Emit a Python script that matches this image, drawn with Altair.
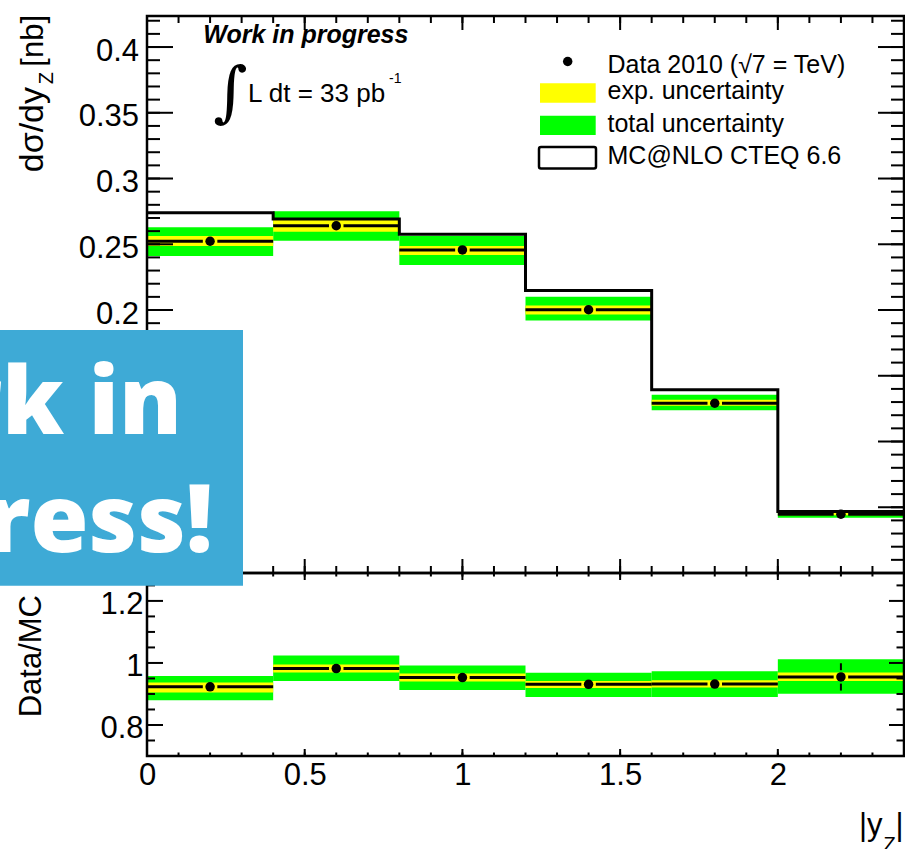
import altair as alt
import pandas as pd

# ---------------- data ----------------
bin_lo = [0.0, 0.4, 0.8, 1.2, 1.6, 2.0]
bin_hi = [0.4, 0.8, 1.2, 1.6, 2.0, 2.4]
bin_center = [0.2, 0.6, 1.0, 1.4, 1.8, 2.2]

xsec = [0.2523, 0.2641, 0.2457, 0.2002, 0.1291, 0.0447]
xsec_stat = [0.0025, 0.0026, 0.0024, 0.0020, 0.0014, 0.0020]
xsec_exp_lo = [0.2487, 0.2596, 0.2419, 0.1965, 0.1272, 0.0440]
xsec_exp_hi = [0.2563, 0.2699, 0.2487, 0.2035, 0.1317, 0.0460]
xsec_tot_lo = [0.2411, 0.2527, 0.2343, 0.1921, 0.1237, 0.0421]
xsec_tot_hi = [0.2629, 0.2751, 0.2563, 0.2101, 0.1355, 0.0474]
mc_xsec = [0.2740, 0.2692, 0.2576, 0.2148, 0.1394, 0.0467]

ratio = [0.923, 0.982, 0.953, 0.931, 0.932, 0.955]
ratio_stat = [0.010, 0.010, 0.010, 0.010, 0.010, 0.044]
ratio_exp_lo = [0.905, 0.969, 0.940, 0.919, 0.921, 0.942]
ratio_exp_hi = [0.937, 0.995, 0.966, 0.942, 0.944, 0.969]
ratio_tot_lo = [0.880, 0.942, 0.913, 0.890, 0.890, 0.901]
ratio_tot_hi = [0.958, 1.024, 0.992, 0.968, 0.973, 1.012]

# tick positions
x_major = [0.0, 0.5, 1.0, 1.5, 2.0]
x_minor = [round(0.1 * i, 1) for i in range(1, 24)]
top_y_major = [0.05, 0.1, 0.15, 0.2, 0.25, 0.3, 0.35, 0.4]
top_y_minor = [round(0.01 * i, 2) for i in range(1, 43)]
ratio_y_major = [0.8, 1.0, 1.2]
ratio_y_minor = [0.75, 0.85, 0.9, 0.95, 1.05, 1.1, 1.15, 1.25]

legend_labels = ["Data 2010 (\u221a7 = TeV)", "exp. uncertainty",
                 "total uncertainty", "MC@NLO CTEQ 6.6"]

# ---------------- geometry / styles ----------------
W, H, SPLIT = 757, 740, 557
FONT = "Liberation Sans"
GREEN, YELLOW, BLUE = "#00ff00", "#ffff00", "#3eaad6"

XS = alt.Scale(domain=[0, 2.4], nice=False, zero=False)
YT = alt.Scale(domain=[0, 0.4236], range=[SPLIT, 0], nice=False, zero=False)
YR = alt.Scale(domain=[0.7, 1.29], range=[H, SPLIT], nice=False, zero=False)

HGAP = 0.023      # half gap of horizontal error line around marker (x units)
VGAP_T = 0.0051   # half gap of vertical error line, top panel units
VGAP_R = 0.0216   # half gap of vertical error line, ratio panel units

df = pd.DataFrame(dict(
    lo=bin_lo, hi=bin_hi, c=bin_center,
    xsec=xsec, xsec_stat=xsec_stat,
    xsec_exp_lo=xsec_exp_lo, xsec_exp_hi=xsec_exp_hi,
    xsec_tot_lo=xsec_tot_lo, xsec_tot_hi=xsec_tot_hi,
    ratio=ratio, ratio_stat=ratio_stat,
    ratio_exp_lo=ratio_exp_lo, ratio_exp_hi=ratio_exp_hi,
    ratio_tot_lo=ratio_tot_lo, ratio_tot_hi=ratio_tot_hi,
))
df["left_end"] = df["c"] - HGAP
df["right_start"] = df["c"] + HGAP

mc_df = pd.DataFrame(dict(x=bin_lo + [bin_hi[-1]], y=mc_xsec + [mc_xsec[-1]]))


def err_segments(val, err, gap):
    rows = []
    for c, v, e in zip(bin_center, val, err):
        if e > gap:
            rows.append(dict(c=c, a=v + gap, b=v + e))
            rows.append(dict(c=c, a=v - e, b=v - gap))
    return pd.DataFrame(rows, columns=["c", "a", "b"])


seg_top = err_segments(xsec, xsec_stat, VGAP_T)
seg_ratio = err_segments(ratio, ratio_stat, VGAP_R)

one = pd.DataFrame({"k": [0]})

label_axis = dict(domain=False, ticks=False, tickSize=0, grid=False, title=None,
                  labelFont=FONT, labelFontSize=31, labelColor="black",
                  format="~g", labelOverlap=False)

layers = []

x_axis = alt.Axis(values=x_major, orient="bottom", labelPadding=4.5,
                  labelFlush=False, **label_axis)
top_axis = alt.Axis(values=top_y_major, orient="left", labelPadding=8.5,
                    labelOffset=4, **label_axis)
ratio_axis = alt.Axis(values=ratio_y_major, orient="left", labelPadding=4,
                      labelOffset=4, **label_axis)


def band(lo, hi, scale, color, yaxis=None, xaxis=None):
    return alt.Chart(df).mark_rect(color=color, opacity=1).encode(
        x=alt.X("lo:Q", scale=XS, axis=xaxis), x2="hi:Q",
        y=alt.Y(f"{lo}:Q", scale=scale, axis=yaxis), y2=f"{hi}:Q")


# uncertainty bands (the first layer carries the x axis labels)
layers.append(band("ratio_tot_lo", "ratio_tot_hi", YR, GREEN, yaxis=ratio_axis, xaxis=x_axis))
layers.append(band("ratio_exp_lo", "ratio_exp_hi", YR, YELLOW))
layers.append(band("xsec_tot_lo", "xsec_tot_hi", YT, GREEN, yaxis=top_axis))
layers.append(band("xsec_exp_lo", "xsec_exp_hi", YT, YELLOW))

# MC histogram
layers.append(alt.Chart(mc_df).mark_line(interpolate="step-after", color="black",
                                          strokeWidth=3).encode(
    x=alt.X("x:Q", scale=XS, axis=None), y=alt.Y("y:Q", scale=YT, axis=None)))


def data_points(field, scale, seg):
    out = []
    for a, b in (("lo", "left_end"), ("right_start", "hi")):
        out.append(alt.Chart(df).mark_rule(color="black", strokeWidth=3).encode(
            x=alt.X(f"{a}:Q", scale=XS, axis=None), x2=f"{b}:Q",
            y=alt.Y(f"{field}:Q", scale=scale, axis=None)))
    if len(seg):
        out.append(alt.Chart(seg).mark_rule(color="black", strokeWidth=2).encode(
            x=alt.X("c:Q", scale=XS, axis=None),
            y=alt.Y("a:Q", scale=scale, axis=None), y2="b:Q"))
    out.append(alt.Chart(df).mark_circle(size=90, color="black", opacity=1).encode(
        x=alt.X("c:Q", scale=XS, axis=None),
        y=alt.Y(f"{field}:Q", scale=scale, axis=None)))
    return out


layers += data_points("xsec", YT, seg_top)
layers += data_points("ratio", YR, seg_ratio)

# frames
for y0, y1 in ((0, SPLIT), (SPLIT, H)):
    layers.append(alt.Chart(one).mark_rect(fillOpacity=0, stroke="black",
                                            strokeWidth=2.5).encode(
        x=alt.value(0), x2=alt.value(W), y=alt.value(y0), y2=alt.value(y1)))


def xticks(vals, y0, length):
    return alt.Chart(pd.DataFrame({"v": vals})).mark_rule(color="black", strokeWidth=2).encode(
        x=alt.X("v:Q", scale=XS, axis=None), y=alt.value(y0), y2=alt.value(y0 + length))


def yticks(vals, scale, x0, length):
    return alt.Chart(pd.DataFrame({"v": vals})).mark_rule(color="black", strokeWidth=2).encode(
        y=alt.Y("v:Q", scale=scale, axis=None), x=alt.value(x0), x2=alt.value(x0 + length))


# top panel ticks
layers += [xticks(x_minor, 0, 7), xticks(x_major, 0, 14),
           xticks(x_minor, SPLIT, -7), xticks(x_major, SPLIT, -14),
           yticks(top_y_minor, YT, 0, 13), yticks(top_y_major, YT, 0, 26),
           yticks(top_y_minor, YT, W, -13), yticks(top_y_major, YT, W, -26)]
# ratio panel ticks
layers += [xticks(x_minor, SPLIT, 3.5), xticks(x_major, SPLIT, 7),
           xticks(x_minor, H, -3.5), xticks(x_major, H, -7),
           yticks(ratio_y_minor, YR, 0, 8), yticks(ratio_y_major, YR, 0, 16),
           yticks(ratio_y_minor, YR, W, -7.5), yticks(ratio_y_major, YR, W, -15)]


def text(s, x, y, size, **kw):
    props = dict(font=FONT, fontSize=size, color="black", baseline="alphabetic", align="left")
    props.update(kw)
    return alt.Chart(one).mark_text(text=s, **props).encode(x=alt.value(x), y=alt.value(y))


# axis titles
layers += [
    text("d\u03c3/dy", -104, 71, 34, angle=270, align="right"),
    text("Z", -94, 56, 20, angle=270, align="right"),
    text("[nb]", -104, -1, 31, angle=270, align="right"),
    text("Data/MC", -106, 579, 31, angle=270, align="right"),
    text("|y", 712, 819, 31),
    text("Z", 736.5, 835, 20),
    text("|", 748.5, 819, 31),
]

# annotations
layers += [
    text("Work in progress", 158.8, 27.3, 25, align="center", fontStyle="italic", fontWeight="bold"),
    text("\u222b", 83.5, 98, 66, align="center", font="DejaVu Serif"),
    text("L dt = 33 pb", 101, 85.7, 26),
    text("-1", 242, 67.3, 14),
]

# legend
layers += [
    alt.Chart(one).mark_circle(size=90, color="black", opacity=1).encode(
        x=alt.value(420.7), y=alt.value(45.5)),
    alt.Chart(one).mark_rect(color=YELLOW).encode(
        x=alt.value(393), x2=alt.value(448.7), y=alt.value(67.3), y2=alt.value(86.7)),
    alt.Chart(one).mark_rect(color=GREEN).encode(
        x=alt.value(393), x2=alt.value(448.7), y=alt.value(99.7), y2=alt.value(119)),
    alt.Chart(one).mark_rect(fill="white", stroke="black", strokeWidth=2.5, cornerRadius=2).encode(
        x=alt.value(392), x2=alt.value(449), y=alt.value(131), y2=alt.value(152.5)),
]
for lab, yb in zip(legend_labels, [56.7, 83, 115.7, 148]):
    layers.append(text(lab, 460.5, yb, 25))

# "Work in progress!" banner (clipped by the page edge)
layers += [
    alt.Chart(one).mark_rect(color=BLUE).encode(
        x=alt.value(-147), x2=alt.value(96), y=alt.value(314), y2=alt.value(569.7)),
    text("Work in", 35, 418.3, 94, align="right", font="Open Sans", fontWeight=800, color="white"),
    text("progress!", 66, 535.7, 94, align="right", font="Open Sans", fontWeight=800, color="white"),
]

chart = alt.layer(*layers).resolve_scale(y="independent").resolve_axis(
    x="independent", y="independent").properties(
    width=W, height=H,
    padding={"left": 147, "top": 16, "right": 1, "bottom": 93},
    autosize=alt.AutoSizeParams(type="none"),
    background="white",
).configure_view(stroke=None)

chart.save("out.html", embed_options={"renderer": "svg", "actions": False})
